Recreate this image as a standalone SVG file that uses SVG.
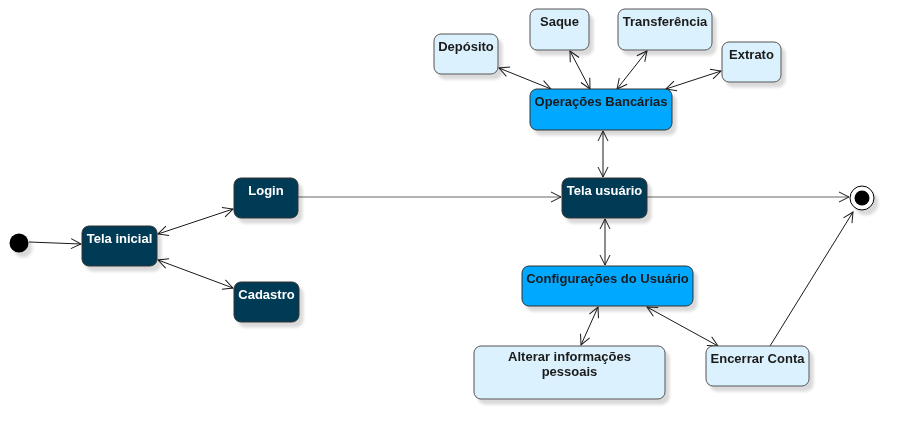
<svg xmlns="http://www.w3.org/2000/svg" width="915" height="439" viewBox="0 0 915 439">
<defs>
<filter id="sh" x="-20%" y="-20%" width="150%" height="160%">
<feGaussianBlur in="SourceAlpha" stdDeviation="1.5"/>
<feOffset dx="4" dy="5" result="o"/>
<feComponentTransfer><feFuncA type="linear" slope="0.15"/></feComponentTransfer>
<feMerge><feMergeNode/><feMergeNode in="SourceGraphic"/></feMerge>
</filter>
<marker id="ah" viewBox="0 0 12 12" refX="11" refY="6" markerWidth="12" markerHeight="12" markerUnits="userSpaceOnUse" orient="auto-start-reverse">
<path d="M1,1 L11,6 L1,11" fill="none" stroke="#1a1a1a" stroke-width="1"/>
</marker>
</defs>
<style>
.dk{fill:#023b57;stroke:#333;stroke-width:1}
.md{fill:#00a8ff;stroke:#333;stroke-width:1}
.lt{fill:#dbf1fd;stroke:#555;stroke-width:1}
text{font-family:"Liberation Sans",Arial,sans-serif;font-size:13px;font-weight:bold;text-anchor:middle}
.wt{fill:#ffffff}
.bt{fill:#1a1a1a}
.c{fill:none;stroke:#1a1a1a;stroke-width:1}
.g{fill:none;stroke:#666;stroke-width:1}
</style>
<rect width="915" height="439" fill="#ffffff"/>
<g id="connectors">
<line class="c" x1="29" y1="242" x2="81" y2="244" marker-end="url(#ah)"/>
<line class="c" x1="158" y1="234" x2="233" y2="209" marker-start="url(#ah)" marker-end="url(#ah)"/>
<line class="c" x1="158" y1="260" x2="233" y2="288" marker-start="url(#ah)" marker-end="url(#ah)"/>
<line class="g" x1="298" y1="197" x2="561" y2="197" marker-end="url(#ah)"/>
<line class="g" x1="647" y1="197" x2="849" y2="197" marker-end="url(#ah)"/>
<line class="c" x1="603" y1="131" x2="603" y2="177" marker-start="url(#ah)" marker-end="url(#ah)"/>
<line class="c" x1="605" y1="219" x2="605" y2="265" marker-start="url(#ah)" marker-end="url(#ah)"/>
<line class="c" x1="499" y1="68" x2="551" y2="89" marker-start="url(#ah)" marker-end="url(#ah)"/>
<line class="c" x1="570" y1="51" x2="590" y2="89" marker-start="url(#ah)" marker-end="url(#ah)"/>
<line class="c" x1="647" y1="51" x2="617" y2="89" marker-start="url(#ah)" marker-end="url(#ah)"/>
<line class="c" x1="721" y1="71" x2="666" y2="89" marker-start="url(#ah)" marker-end="url(#ah)"/>
<line class="c" x1="598" y1="307" x2="581" y2="345" marker-start="url(#ah)" marker-end="url(#ah)"/>
<line class="c" x1="647" y1="307" x2="718" y2="346" marker-start="url(#ah)" marker-end="url(#ah)"/>
<line class="c" x1="770" y1="346" x2="853" y2="212" marker-end="url(#ah)"/>
</g>
<g id="start" filter="url(#sh)"><circle cx="19" cy="243" r="9.5" fill="#000"/></g>
<g id="end" filter="url(#sh)"><circle cx="862" cy="198" r="12" fill="#fff" stroke="#000" stroke-width="1"/><circle cx="862" cy="198" r="7.5" fill="#000"/></g>
<g id="tela-inicial" filter="url(#sh)"><rect class="dk" x="82" y="226" width="75" height="40" rx="7"/><text class="wt" x="119.5" y="243">Tela inicial</text></g>
<g id="login" filter="url(#sh)"><rect class="dk" x="234" y="178" width="64" height="40" rx="7"/><text class="wt" x="266" y="195">Login</text></g>
<g id="cadastro" filter="url(#sh)"><rect class="dk" x="234" y="282" width="65" height="40" rx="7"/><text class="wt" x="266.5" y="299">Cadastro</text></g>
<g id="tela-usuario" filter="url(#sh)"><rect class="dk" x="562" y="178" width="85" height="40" rx="7"/><text class="wt" x="604.5" y="195">Tela usuário</text></g>
<g id="operacoes" filter="url(#sh)"><rect class="md" x="530" y="89" width="142" height="41" rx="7"/><text class="bt" x="601" y="106">Operações Bancárias</text></g>
<g id="deposito" filter="url(#sh)"><rect class="lt" x="434" y="34" width="64" height="40" rx="7"/><text class="bt" x="466" y="51">Depósito</text></g>
<g id="saque" filter="url(#sh)"><rect class="lt" x="530" y="9" width="59" height="41" rx="7"/><text class="bt" x="559.5" y="26">Saque</text></g>
<g id="transferencia" filter="url(#sh)"><rect class="lt" x="618" y="9" width="94" height="41" rx="7"/><text class="bt" x="665" y="26">Transferência</text></g>
<g id="extrato" filter="url(#sh)"><rect class="lt" x="722" y="42" width="59" height="40" rx="7"/><text class="bt" x="751.5" y="59">Extrato</text></g>
<g id="configuracoes" filter="url(#sh)"><rect class="md" x="522" y="266" width="171" height="40" rx="7"/><text class="bt" x="607.5" y="283">Configurações do Usuário</text></g>
<g id="alterar" filter="url(#sh)"><rect class="lt" x="474" y="346" width="191" height="53" rx="7"/><text class="bt" x="569.5" y="361">Alterar informações</text><text class="bt" x="569.5" y="376">pessoais</text></g>
<g id="encerrar" filter="url(#sh)"><rect class="lt" x="706" y="346" width="103" height="40" rx="7"/><text class="bt" x="757.5" y="363">Encerrar Conta</text></g>
</svg>
